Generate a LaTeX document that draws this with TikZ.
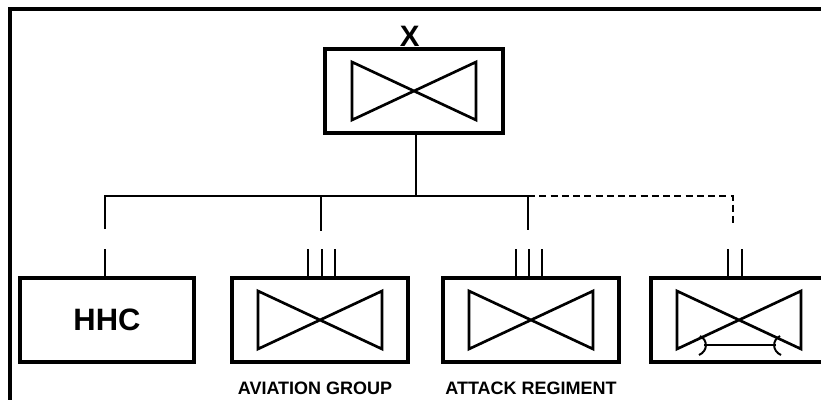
\documentclass[tikz,border=0pt]{standalone}
\usepackage{fontspec}
\setmainfont{Liberation Sans}
\usetikzlibrary{calc}
\usetikzlibrary{positioning}

\begin{document}
\begin{tikzpicture}[x=0.025cm, y=-0.025cm, line width=1.9pt, font=\bfseries]
  \tikzstyle{unit}=[draw, rectangle, line width=2.2pt, minimum width=4.4cm, minimum height=2.1cm, inner sep=0pt]
  \tikzstyle{avn}=[path picture={
      \draw[line width=1.9pt] ([shift={(-62,-29)}]path picture bounding box.center)
        -- ([shift={(62,29)}]path picture bounding box.center)
        -- ([shift={(62,-29)}]path picture bounding box.center)
        -- ([shift={(-62,29)}]path picture bounding box.center) -- cycle;}]
  \tikzstyle{maint}=[postaction={path picture={
      \draw[line width=1.4pt] ([shift={(-35,25)}]path picture bounding box.center)
        -- ([shift={(37,25)}]path picture bounding box.center);
      \draw[line width=1.4pt] ([shift={(-39,16)}]path picture bounding box.center)
        .. controls ([shift={(-31,20)}]path picture bounding box.center)
        and ([shift={(-31,31)}]path picture bounding box.center)
        .. ([shift={(-40,35)}]path picture bounding box.center);
      \draw[line width=1.4pt] ([shift={(41,16)}]path picture bounding box.center)
        .. controls ([shift={(33,20)}]path picture bounding box.center)
        and ([shift={(33,31)}]path picture bounding box.center)
        .. ([shift={(42,35)}]path picture bounding box.center);}}]
  \tikzstyle{lbl}=[font=\bfseries\fontsize{12.8}{14}\selectfont, inner sep=0pt]

  \path[use as bounding box, clip] (0,0) rectangle (821,400);
  \draw[line width=2.4pt] (10,400) -- (10,9) -- (821,9);

  % brigade
  \node[unit, avn, minimum width=4.45cm] (BDE) at (414,91) {};
  \node[above=0pt of BDE, inner sep=0pt, xshift=-3pt, font=\bfseries\fontsize{21}{21}\selectfont] (ech) {X};

  % subordinate units
  \node[unit, minimum width=4.35cm, font=\bfseries\fontsize{22}{22}\selectfont] (HHC) at (107,320) {HHC};
  \node[unit, avn] (AVN) at (320,320) {};
  \node[unit, avn] (ATK) at (531,320) {};
  \node[unit, avn, maint] (ASB) at (739,320) {};

  \node[lbl] (avnlbl) at (315,388) {AVIATION GROUP};
  \node[lbl] (atklbl) at (531,388) {ATTACK REGIMENT};

  % bus
  \coordinate (b1) at (105,196);
  \coordinate (b2) at (321,196);
  \coordinate (b3) at (528,196);
  \coordinate (b4) at (733,196);
  \coordinate (d1) at (105,229);
  \coordinate (d2) at (321,231);
  \coordinate (d3) at (528,230);
  \coordinate (d4) at (733,225);

  \draw (BDE.south) ++(2,0) -- (416,196);
  \draw (d1) -- (b1) -- (b3) -- (d3);
  \draw (b2) -- (d2);
  \draw[dash pattern=on 5pt off 3pt] (b3) -- (b4) -- (d4);

  % echelon ticks
  \foreach \u/\dx in {HHC/-2, AVN/-12, AVN/2, AVN/15, ATK/-15, ATK/-2, ATK/11, ASB/-11, ASB/3}
    \draw (\u.north) ++(\dx,0) -- ++(0,-27);
\end{tikzpicture}
\end{document}
